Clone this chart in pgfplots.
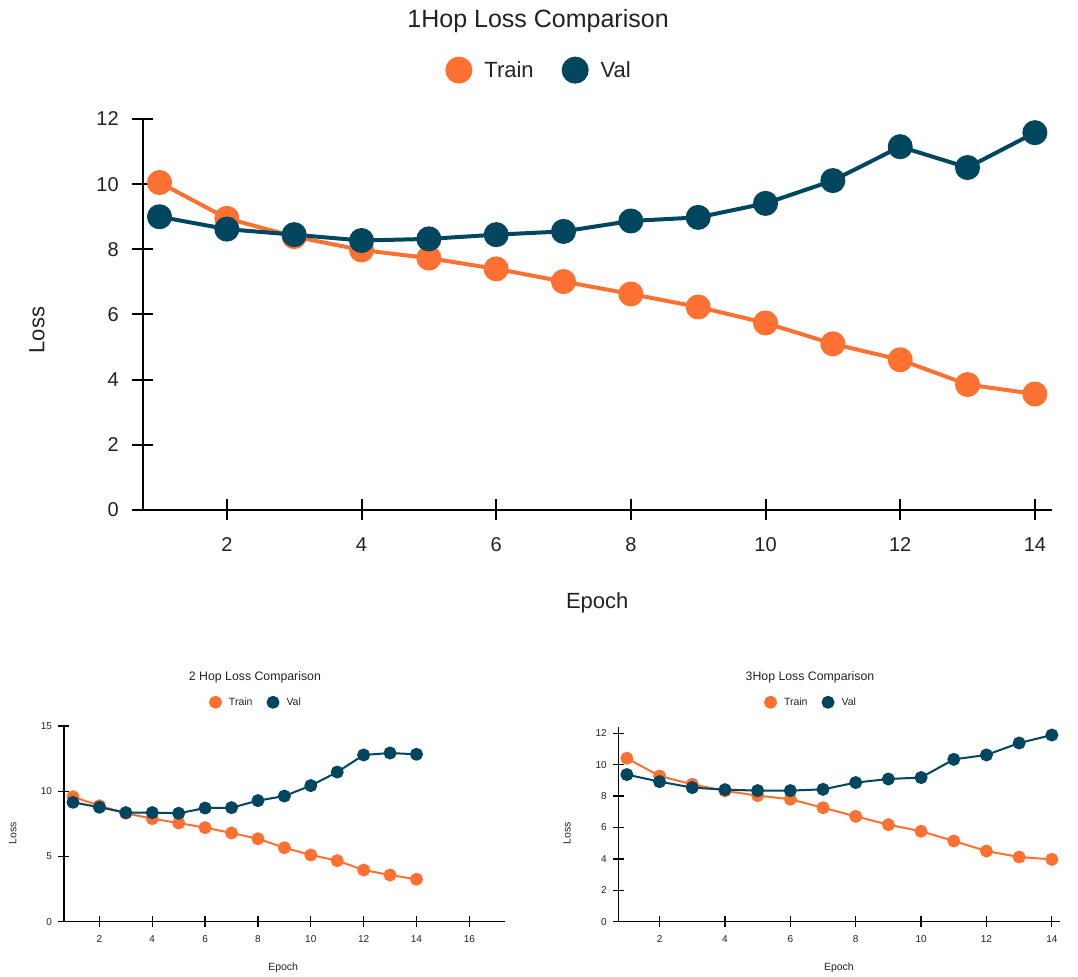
\documentclass[border=0pt]{standalone}
\usepackage{fontspec}
\setmainfont{Liberation Sans}
\usepackage{pgfplots}
\pgfplotsset{compat=1.18}
\definecolor{trainc}{HTML}{FF7033}
\definecolor{valc}{HTML}{00465F}
\definecolor{txt}{HTML}{222222}

\pgfplotstableread{
x train val
1 10.05 9.00
2 8.95 8.62
3 8.39 8.45
4 7.98 8.27
5 7.73 8.32
6 7.40 8.45
7 7.01 8.55
8 6.63 8.87
9 6.23 8.98
10 5.74 9.41
11 5.10 10.11
12 4.61 11.15
13 3.85 10.51
14 3.56 11.58
}\hopone

\pgfplotstableread{
x train val
1 9.58 9.15
2 8.89 8.77
3 8.31 8.36
4 7.90 8.36
5 7.56 8.31
6 7.21 8.71
7 6.80 8.74
8 6.36 9.28
9 5.67 9.63
10 5.11 10.43
11 4.68 11.47
12 3.96 12.78
13 3.58 12.93
14 3.25 12.83
}\hoptwo

\pgfplotstableread{
x train val
1 10.41 9.37
2 9.28 8.92
3 8.75 8.54
4 8.33 8.41
5 8.03 8.35
6 7.80 8.35
7 7.26 8.43
8 6.71 8.86
9 6.18 9.09
10 5.76 9.18
11 5.14 10.34
12 4.50 10.62
13 4.12 11.38
14 3.97 11.89
}\hopthree

\pgfplotsset{
  lossaxis/.style={
    scale only axis, anchor=south west, clip=false,
    axis lines=left, axis line style={-},
    tick align=center,
    /pgf/number format/assume math mode=true,
    ylabel style={anchor=center},
    xlabel style={anchor=center},
    title style={anchor=center, yshift=-6pt},
    legend columns=2,
    legend style={draw=none, fill=none, anchor=center, column sep=0pt, nodes={inner sep=0pt}, text=txt},
    every axis label/.append style={text=txt},
    every tick label/.append style={text=txt},
    title style={text=txt},
    line join=round,
  },
}

\begin{document}
\begin{tikzpicture}
\path (0pt,0pt) rectangle (1078pt,975pt);

% ---------- 1 Hop ----------
\begin{axis}[lossaxis,
  at={(142.7pt,465pt)}, width=909pt, height=391pt,
  xmin=0.75, xmax=14.25, ymin=0, ymax=12,
  xtick={2,4,...,14}, ytick={0,2,...,12},
  axis line style={line width=2pt},
  tick style={line width=2pt, black},
  major tick length=21pt,
  tick label style={font=\fontsize{20}{24}\selectfont},
  xticklabel style={yshift=-14pt},
  yticklabel style={xshift=-10pt},
  title={1Hop Loss Comparison},
  title style={font=\fontsize{25}{30}\selectfont, at={(axis description cs:0.435,1.250)}},
  xlabel={Epoch},
  xlabel style={font=\fontsize{22}{26}\selectfont, at={(axis description cs:0.5,-0.238)}},
  ylabel={Loss},
  ylabel style={font=\fontsize{22}{26}\selectfont, at={(axis description cs:-0.1163,0.46)}},
  legend style={at={(axis description cs:0.435,1.125)}, font=\fontsize{22}{26}\selectfont,
    /tikz/every odd column/.append style={column sep=12pt},
    /tikz/every even column/.append style={column sep=28pt}},
  legend image code/.code={\fill[#1] (0pt,0pt) circle (11.5pt);},
]
\addplot[color=trainc, line width=4pt, mark=*, mark size=10.5pt, mark options={draw=none, fill=trainc}] table[x=x, y=train] {\hopone};
\addlegendentry{Train}
\addplot[color=valc, line width=4pt, mark=*, mark size=10.5pt, mark options={draw=none, fill=valc}] table[x=x, y=val] {\hopone};
\addlegendentry{Val}
\end{axis}

% ---------- 2 Hop ----------
\begin{axis}[lossaxis,
  at={(64pt,53.3pt)}, width=441pt, height=195.7pt,
  xmin=0.66, xmax=17.35, ymin=0, ymax=15,
  xtick={2,4,...,16}, ytick={0,5,10,15},
  axis line style={line width=1.2pt},
  tick style={line width=1.2pt, black},
  major tick length=11pt,
  tick label style={font=\fontsize{10}{12}\selectfont},
  xticklabel style={yshift=-5pt},
  yticklabel style={xshift=-3pt},
  title={2 Hop Loss Comparison},
  title style={font=\fontsize{12.3}{14}\selectfont, at={(axis description cs:0.433,1.250)}},
  xlabel={Epoch},
  xlabel style={font=\fontsize{10.5}{12}\selectfont, at={(axis description cs:0.497,-0.237)}},
  ylabel={Loss},
  ylabel style={font=\fontsize{10.5}{12}\selectfont, at={(axis description cs:-0.116,0.453)}},
  legend style={at={(axis description cs:0.433,1.121)}, font=\fontsize{10.5}{12}\selectfont,
    /tikz/every odd column/.append style={column sep=7pt},
    /tikz/every even column/.append style={column sep=14pt}},
  legend image code/.code={\fill[#1] (0pt,0pt) circle (5.5pt);},
]
\addplot[color=trainc, line width=2pt, mark=*, mark size=5.5pt, mark options={draw=none, fill=trainc}] table[x=x, y=train] {\hoptwo};
\addlegendentry{Train}
\addplot[color=valc, line width=2pt, mark=*, mark size=5.5pt, mark options={draw=none, fill=valc}] table[x=x, y=val] {\hoptwo};
\addlegendentry{Val}
\end{axis}

% ---------- 3 Hop ----------
\begin{axis}[lossaxis,
  at={(618.7pt,53.3pt)}, width=441.3pt, height=195pt,
  xmin=0.75, xmax=14.25, ymin=0, ymax=12.42,
  xtick={2,4,...,14}, ytick={0,2,...,12},
  axis line style={line width=1.2pt},
  tick style={line width=1.2pt, black},
  major tick length=11pt,
  tick label style={font=\fontsize{10}{12}\selectfont},
  xticklabel style={yshift=-5pt},
  yticklabel style={xshift=-3pt},
  title={3Hop Loss Comparison},
  title style={font=\fontsize{12.3}{14}\selectfont, at={(axis description cs:0.4335,1.255)}},
  xlabel={Epoch},
  xlabel style={font=\fontsize{10.5}{12}\selectfont, at={(axis description cs:0.499,-0.237)}},
  ylabel={Loss},
  ylabel style={font=\fontsize{10.5}{12}\selectfont, at={(axis description cs:-0.117,0.455)}},
  legend style={at={(axis description cs:0.4335,1.125)}, font=\fontsize{10.5}{12}\selectfont,
    /tikz/every odd column/.append style={column sep=7pt},
    /tikz/every even column/.append style={column sep=14pt}},
  legend image code/.code={\fill[#1] (0pt,0pt) circle (5.5pt);},
]
\addplot[color=trainc, line width=2pt, mark=*, mark size=5.5pt, mark options={draw=none, fill=trainc}] table[x=x, y=train] {\hopthree};
\addlegendentry{Train}
\addplot[color=valc, line width=2pt, mark=*, mark size=5.5pt, mark options={draw=none, fill=valc}] table[x=x, y=val] {\hopthree};
\addlegendentry{Val}
\end{axis}
\end{tikzpicture}
\end{document}
